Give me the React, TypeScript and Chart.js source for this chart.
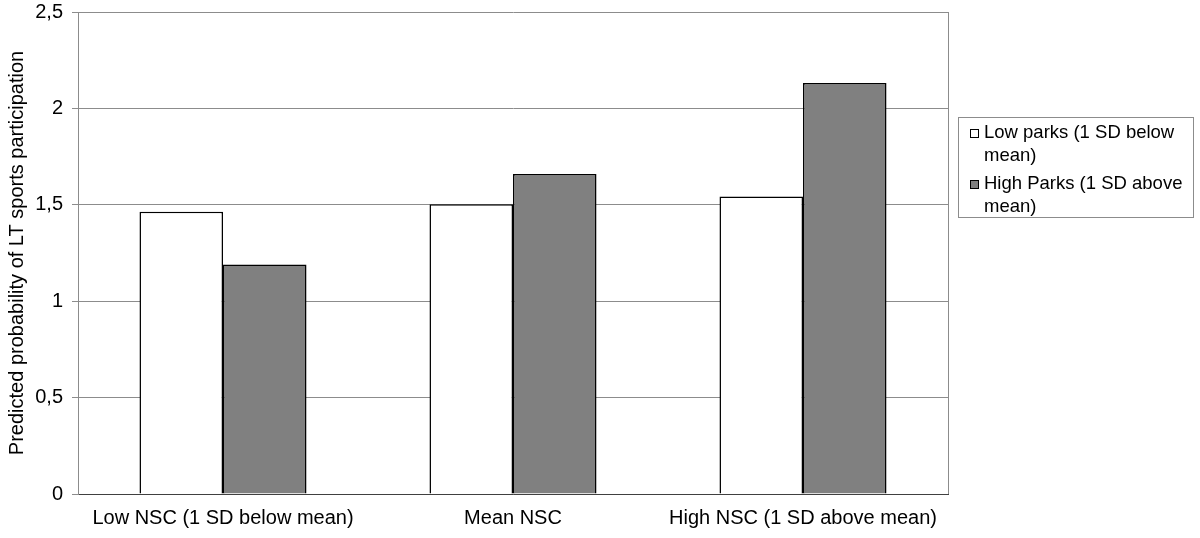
import React, { useEffect, useRef } from "react";
import { Chart, registerables } from "chart.js";

Chart.register(...registerables);

const categories = ["Low NSC (1 SD below mean)", "Mean NSC", "High NSC (1 SD above mean)"];
const lowParks = [1.464, 1.503, 1.543];
const highParks = [1.191, 1.66, 2.132];
const seriesLabels = ["Low parks (1 SD below mean)", "High Parks (1 SD above mean)"];
const yTicks = [0, 0.5, 1, 1.5, 2, 2.5];
const yTitle = "Predicted probability of LT sports participation";

const FONT = "'Liberation Sans', Arial, Helvetica, sans-serif";

const legendPlugin = {
  id: "boxLegend",
  afterDraw(chart: any) {
    const ctx = chart.ctx;
    const area = chart.chartArea;
    ctx.save();
    ctx.strokeStyle = "#8c8c8c";
    ctx.lineWidth = 1;
    ctx.beginPath();
    ctx.moveTo(Math.round(area.right) + 0.5, area.top);
    ctx.lineTo(Math.round(area.right) + 0.5, area.bottom);
    ctx.stroke();

    const bx = 958.5, by = 117.5, bw = 235, bh = 100;
    ctx.strokeStyle = "#8c8c8c";
    ctx.strokeRect(bx, by, bw, bh);

    ctx.font = `18.5px ${FONT}`;
    ctx.textBaseline = "middle";
    ctx.textAlign = "left";
    const textX = 984;
    const maxW = 205;
    const lineH = 22.5;
    let y = 133;
    chart.data.datasets.forEach((ds: any) => {
      const words = String(ds.label).split(" ");
      const lines: string[] = [];
      let cur = "";
      words.forEach((w) => {
        const t = cur ? cur + " " + w : w;
        if (ctx.measureText(t).width > maxW && cur) {
          lines.push(cur);
          cur = w;
        } else cur = t;
      });
      if (cur) lines.push(cur);
      ctx.fillStyle = ds.backgroundColor;
      ctx.fillRect(970, y - 4, 9, 9);
      ctx.strokeStyle = "#000";
      ctx.lineWidth = 1;
      ctx.strokeRect(970.5, y - 3.5, 8, 8);
      ctx.fillStyle = "#000";
      lines.forEach((ln, k) => {
        ctx.fillText(ln, textX, y + k * lineH);
      });
      y += (lines.length - 1) * lineH + 28.5;
    });
    ctx.restore();
  },
};

export default function App() {
  const ref = useRef<HTMLCanvasElement | null>(null);
  useEffect(() => {
    if (!ref.current) return;
    const chart = new Chart(ref.current, {
      type: "bar",
      data: {
        labels: categories,
        datasets: [
          {
            label: seriesLabels[0],
            data: lowParks,
            backgroundColor: "#ffffff",
            borderColor: "#000000",
            borderWidth: 1.5,
            categoryPercentage: 0.576,
            barPercentage: 1,
          },
          {
            label: seriesLabels[1],
            data: highParks,
            backgroundColor: "#808080",
            borderColor: "#000000",
            borderWidth: 1.5,
            categoryPercentage: 0.576,
            barPercentage: 1,
          },
        ],
      },
      options: {
        animation: false,
        responsive: false,
        maintainAspectRatio: false,
        layout: { padding: { left: 0, top: 12, right: 252, bottom: 0 } },
        plugins: {
          legend: { display: false },
          tooltip: { enabled: false },
        },
        scales: {
          x: {
            grid: { display: false, drawTicks: false },
            border: { display: true, color: "#404040", width: 1 },
            ticks: {
              color: "#000",
              font: { family: FONT, size: 20 },
              padding: 12,
              maxRotation: 0,
              autoSkip: false,
            },
            afterFit(scale: any) {
              scale.height = 44;
              scale.paddingLeft = 0;
              scale.paddingRight = 0;
            },
          },
          y: {
            min: 0,
            max: 2.5,
            afterBuildTicks(scale: any) {
              scale.ticks = yTicks.map((v) => ({ value: v }));
            },
            grid: { color: "#8c8c8c", lineWidth: 1, tickLength: 6, drawTicks: true },
            border: { display: true, color: "#8c8c8c", width: 1 },
            ticks: {
              color: "#000",
              font: { family: FONT, size: 20 },
              padding: 9,
              callback: (v: any) => String(v).replace(".", ","),
            },
            title: {
              display: true,
              text: yTitle,
              color: "#000",
              font: { family: FONT, size: 20 },
              padding: { top: 5, bottom: 0 },
            },
            afterFit(scale: any) {
              scale.width = 78;
              scale.paddingTop = 0;
              scale.paddingBottom = 0;
            },
          },
        },
      },
      plugins: [legendPlugin],
    } as any);
    return () => chart.destroy();
  }, []);
  return (
    <div style={{ position: "fixed", left: 0, top: 0, width: 1200, height: 538, background: "#fff" }}>
      <canvas ref={ref} width={1200} height={538} style={{ width: 1200, height: 538, display: "block" }} />
    </div>
  );
}
